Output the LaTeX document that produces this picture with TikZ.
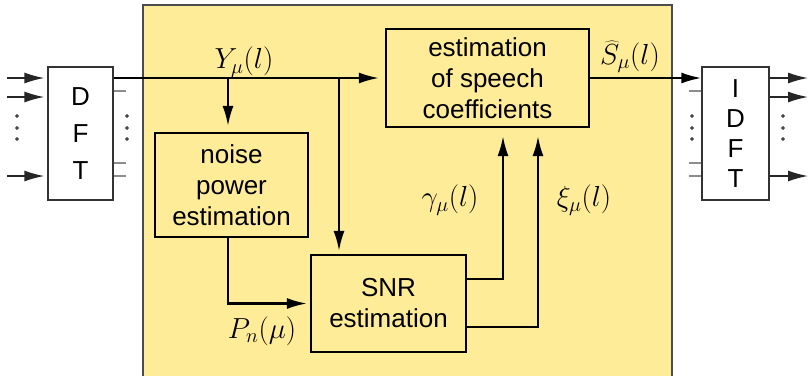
\documentclass[tikz,border=0pt]{standalone}
\usepackage{fix-cm}
\usepackage[no-math]{fontspec}
\setmainfont{Liberation Sans}
\usetikzlibrary{arrows.meta,positioning,calc}
\definecolor{bgYellow}{RGB}{255,236,153}

\begin{document}
\begin{tikzpicture}[x=1pt,y=-1pt,
  >={Latex[length=20pt,width=11pt]},
  block/.style={draw,line width=2.2pt,fill=bgYellow,align=center,inner sep=0pt,
    font=\fontsize{26}{31}\selectfont},
  tbox/.style={draw=black!80,line width=1.3pt,fill=white,align=center,inner sep=0pt,
    font=\fontsize{26}{30}\selectfont},
  sig/.style={line width=2.2pt},
  thinsig/.style={line width=1.5pt,black!85},
  stub/.style={draw=black!45,line width=1.4pt},
  lab/.style={font=\fontsize{29}{33}\selectfont,inner sep=1pt}]

      \useasboundingbox (0,0) rectangle (810,376);

      % the yellow area
      \fill[bgYellow] (143,5) rectangle (672,376);
      \draw[black!70,line width=1.3pt] (143,376) -- (143,5) -- (672,5) -- (672,376);

      % transform boxes
      \node[tbox,minimum width=65pt,minimum height=133pt] (dft) at (80.5,133.5) {D\\[7pt]F\\[7pt]T};
      \node[tbox,minimum width=67pt,minimum height=133pt] (idft) at (735.5,133.5) {I\\D\\F\\T};

      % processing blocks
      \node[block,minimum width=203pt,minimum height=98pt] (speech) at (487.5,78) {estimation\\of speech\\coefficients};
      \node[block,minimum width=153pt,minimum height=104pt] (noise) at (231.5,185) {noise\\power\\estimation};
      \node[block,minimum width=155pt,minimum height=97pt] (snr) at (388.5,303.5) {SNR\\estimation};

      % inputs, outputs and stubs of the transforms
      \foreach \y [count=\i] in {78,97,176}
      {
        \coordinate (in\i) at (7,\y);
        \coordinate (out\i) at (808,\y);
        \draw[thinsig,->,shorten >=3pt] (in\i) -- (dft.west |- in\i);
        \draw[thinsig,->] (idft.east |- out\i) -- (out\i);
      }
      \foreach \y in {91,163,176}
      {
        \draw[stub] (dft.east |- 0,\y) -- ++(12,0);
        \draw[stub] (idft.west |- 0,\y) -- ++(-12,0);
      }
      \foreach \x in {17,127,692,783}
        \foreach \y in {116,128,139}
          \draw[line width=0.7pt] (\x,\y) circle [radius=1.3pt];

      % the signal paths
      \coordinate (ybr1) at (228,78);
      \coordinate (ybr2) at (339,78);
      \draw[sig,->,shorten >=6pt] (speech.west -| dft.east) -- (speech.west);
      \draw[sig,->,shorten >=6pt] (ybr1) -- (ybr1 |- noise.north);
      \draw[sig,->,shorten >=3pt] (ybr2) -- (ybr2 |- snr.north);
      \draw[sig,->,shorten >=3pt] (ybr1 |- noise.south) |- (snr.west);
      \draw[sig,->,shorten >=8pt] ([yshift=24.5pt]snr.east) -| ([xshift=15.5pt]speech.south);
      \draw[sig,->,shorten >=8pt] ([yshift=-23.5pt]snr.east) -| ([xshift=50.5pt]speech.south);
      \draw[sig,->] (speech.east) -- (speech.east -| idft.west);

      % labels of the signals
      \node[lab] (ylab) at (244,62) {$Y_\mu(l)$};
      \node[lab] (slab) at (630,57) {$\widehat{S}_\mu(l)$};
      \node[lab] (glab) at (450,200) {$\gamma_\mu(l)$};
      \node[lab] (xlab) at (584,200) {$\xi_\mu(l)$};
      \node[lab] (plab) at (262,331) {$P_n(\mu)$};

\end{tikzpicture}
\end{document}
